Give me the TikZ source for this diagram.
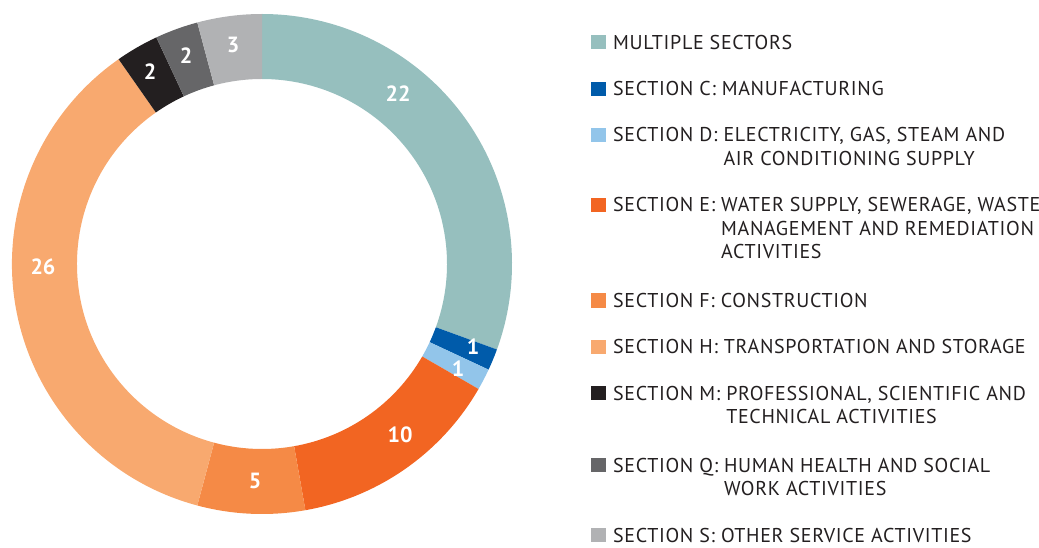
\documentclass[tikz,border=0pt]{standalone}
\usepackage{fontspec}
\setmainfont{PT Sans}
\newfontfamily\legfont[LetterSpace=3.3]{PT Sans}
\usetikzlibrary{calc}
\definecolor{cMult}{HTML}{96BFBE}
\definecolor{cC}{HTML}{005BAA}
\definecolor{cD}{HTML}{92C5EA}
\definecolor{cE}{HTML}{F26522}
\definecolor{cF}{HTML}{F58A46}
\definecolor{cH}{HTML}{F8A96F}
\definecolor{cM}{HTML}{231F20}
\definecolor{cQ}{HTML}{666668}
\definecolor{cS}{HTML}{B1B2B4}
\definecolor{cText}{HTML}{231F20}
\newcommand{\ringseg}[3]{% color, start angle, end angle
  \fill[#1] ($(ctr)+(#2:250)$) arc[start angle=#2,end angle=#3,radius=250]
    -- ($(ctr)+(#3:185)$) arc[start angle=#3,end angle=#2,radius=185] -- cycle;}
\tikzset{
  numlabel/.style={text=white,font=\fontsize{22}{25}\selectfont\bfseries,inner sep=0pt},
  swatch/.style={minimum width=15pt,minimum height=14pt,inner sep=0pt,anchor=south west},
  legtext/.style={anchor=base west,inner sep=0pt,text=cText,font=\legfont\fontsize{20}{23.3}\selectfont}
}
\begin{document}
\begin{tikzpicture}[x=1pt,y=1pt]
\useasboundingbox (0,0) rectangle (1039,547);
\coordinate (ctr) at (262,283);
% ring
\ringseg{cMult}{90}{-20}
\ringseg{cC}{-20}{-25}
\ringseg{cD}{-25}{-30}
\ringseg{cE}{-30}{-80}
\ringseg{cF}{-80}{-105}
\ringseg{cH}{-105}{-235}
\ringseg{cM}{125}{115}
\ringseg{cQ}{115}{105}
\ringseg{cS}{105}{90}
% value labels
\node[numlabel] (n22) at (398,453) {22};
\node[numlabel] (n1a) at (473,200) {1};
\node[numlabel] (n1b) at (458,178) {1};
\node[numlabel] (n10) at (400,112) {10};
\node[numlabel] (n5) at (255,66) {5};
\node[numlabel] (n26) at (43,280) {26};
\node[numlabel] (n2a) at (150,475) {2};
\node[numlabel] (n2b) at (186,491) {2};
\node[numlabel] (n3) at (233,502) {3};
% legend
\node[swatch,fill=cMult] (s1) at (591,497.3) {};
\node[legtext] (t1) at (613,497.3) {MULTIPLE SECTORS};
\node[swatch,fill=cC] (s2) at (591,451) {};
\node[legtext] (t2) at (613,451) {SECTION C: MANUFACTURING};
\node[swatch,fill=cD] (s3) at (591,405) {};
\node[legtext] (t3) at (613,405) {\begin{tabular}[t]{@{}l@{\ }l@{}}SECTION D:&ELECTRICITY, GAS, STEAM AND\\&AIR CONDITIONING SUPPLY\end{tabular}};
\node[swatch,fill=cE] (s4) at (591,335) {};
\node[legtext] (t4) at (613,335) {\begin{tabular}[t]{@{}l@{\ }l@{}}SECTION E:&WATER SUPPLY, SEWERAGE, WASTE\\&MANAGEMENT AND REMEDIATION\\&ACTIVITIES\end{tabular}};
\node[swatch,fill=cF] (s5) at (591,239.3) {};
\node[legtext] (t5) at (613,239.3) {SECTION F: CONSTRUCTION};
\node[swatch,fill=cH] (s6) at (591,193.3) {};
\node[legtext] (t6) at (613,193.3) {SECTION H: TRANSPORTATION AND STORAGE};
\node[swatch,fill=cM] (s7) at (591,146.7) {};
\node[legtext] (t7) at (613,146.7) {\begin{tabular}[t]{@{}l@{\ }l@{}}SECTION M:&PROFESSIONAL, SCIENTIFIC AND\\&TECHNICAL ACTIVITIES\end{tabular}};
\node[swatch,fill=cQ] (s8) at (591,75) {};
\node[legtext] (t8) at (613,75) {\begin{tabular}[t]{@{}l@{\ }l@{}}SECTION Q:&HUMAN HEALTH AND SOCIAL\\&WORK ACTIVITIES\end{tabular}};
\node[swatch,fill=cS] (s9) at (591,5) {};
\node[legtext] (t9) at (613,5) {SECTION S: OTHER SERVICE ACTIVITIES};
\end{tikzpicture}
\end{document}
